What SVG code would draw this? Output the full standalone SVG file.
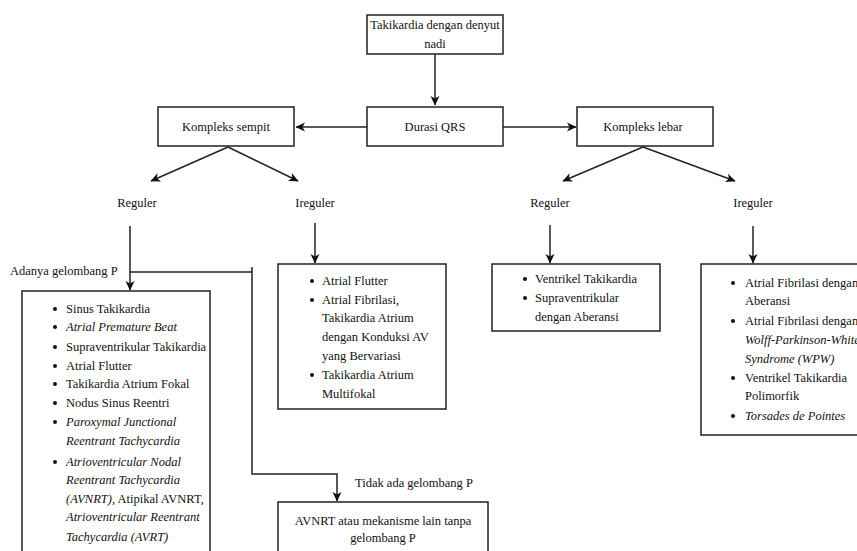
<svg xmlns="http://www.w3.org/2000/svg" width="857" height="551" viewBox="0 0 857 551">
<defs>
<marker id="arr" markerWidth="10" markerHeight="10" refX="9" refY="5" orient="auto" markerUnits="userSpaceOnUse">
<path d="M0,0.5 L9.5,5 L0,9.5 L2.5,5 Z" fill="#111"/>
</marker>
</defs>
<style>
text{font-family:"Liberation Serif","Times New Roman",serif;font-size:12.5px;fill:#111}
.c{text-anchor:middle}
.i{font-style:italic}
.box{fill:#fff;stroke:#222;stroke-width:1.5}
.ln{fill:none;stroke:#222;stroke-width:1.5}
.b{fill:#111}
</style>
<rect width="857" height="551" fill="#fff"/>
<g id="connectors">
<path class="ln" d="M435,54 V105" marker-end="url(#arr)"/>
<path class="ln" d="M367,127 H296" marker-end="url(#arr)"/>
<path class="ln" d="M503,127 H576" marker-end="url(#arr)"/>
<path class="ln" d="M228,147 L151,181" marker-end="url(#arr)"/>
<path class="ln" d="M228,147 L298,181" marker-end="url(#arr)"/>
<path class="ln" d="M643,147 L563,181" marker-end="url(#arr)"/>
<path class="ln" d="M643,147 L735,181" marker-end="url(#arr)"/>
<path class="ln" d="M130,226 V290" marker-end="url(#arr)"/>
<path class="ln" d="M130,272 H252"/>
<path class="ln" d="M252,267 V474 H337 V501" marker-end="url(#arr)"/>
<path class="ln" d="M315,223 V263" marker-end="url(#arr)"/>
<path class="ln" d="M550,225 V263" marker-end="url(#arr)"/>
<path class="ln" d="M753,226 V263" marker-end="url(#arr)"/>
</g>
<g id="n-top">
<rect class="box" x="367" y="15" width="136" height="39"/>
<text class="c" x="435" y="29">Takikardia dengan denyut</text>
<text class="c" x="435" y="48">nadi</text>
</g>
<g id="n-durasi">
<rect class="box" x="367" y="107" width="136" height="39"/>
<text class="c" x="435" y="131">Durasi QRS</text>
</g>
<g id="n-sempit">
<rect class="box" x="158" y="107" width="136" height="39"/>
<text class="c" x="226" y="131">Kompleks sempit</text>
</g>
<g id="n-lebar">
<rect class="box" x="577" y="107" width="136" height="39"/>
<text class="c" x="643" y="131">Kompleks lebar</text>
</g>
<g id="l-reguler1"><text class="c" x="137" y="207">Reguler</text></g>
<g id="l-ireguler1"><text class="c" x="315" y="207">Ireguler</text></g>
<g id="l-reguler2"><text class="c" x="550" y="207">Reguler</text></g>
<g id="l-ireguler2"><text class="c" x="753" y="207">Ireguler</text></g>
<g id="l-adanya"><text x="10" y="275">Adanya gelombang P</text></g>
<g id="l-tidak"><text x="355" y="487">Tidak ada gelombang P</text></g>
<g id="n-list1">
<rect class="box" x="22" y="291" width="188" height="280"/>
<circle class="b" cx="55" cy="309" r="2"/><text x="66" y="313">Sinus Takikardia</text>
<circle class="b" cx="55" cy="327" r="2"/><text class="i" x="66" y="331">Atrial Premature Beat</text>
<circle class="b" cx="55" cy="347" r="2"/><text x="66" y="351">Supraventrikular Takikardia</text>
<circle class="b" cx="55" cy="366" r="2"/><text x="66" y="370">Atrial Flutter</text>
<circle class="b" cx="55" cy="384" r="2"/><text x="66" y="388">Takikardia Atrium Fokal</text>
<circle class="b" cx="55" cy="403" r="2"/><text x="66" y="407">Nodus Sinus Reentri</text>
<circle class="b" cx="55" cy="422" r="2"/><text class="i" x="66" y="426">Paroxymal Junctional</text>
<text class="i" x="66" y="445">Reentrant Tachycardia</text>
<circle class="b" cx="55" cy="462" r="2"/><text class="i" x="66" y="466">Atrioventricular Nodal</text>
<text class="i" x="66" y="484">Reentrant Tachycardia</text>
<text x="66" y="503"><tspan class="i" font-style="italic">(AVNRT),</tspan> Atipikal AVNRT,</text>
<text class="i" x="66" y="521">Atrioventricular Reentrant</text>
<text class="i" x="66" y="541">Tachycardia (AVRT)</text>
</g>
<g id="n-list2">
<rect class="box" x="278" y="264" width="168" height="145"/>
<circle class="b" cx="312" cy="281" r="2"/><text x="322" y="285">Atrial Flutter</text>
<circle class="b" cx="312" cy="300" r="2"/><text x="322" y="304">Atrial Fibrilasi,</text>
<text x="322" y="322">Takikardia Atrium</text>
<text x="322" y="341">dengan Konduksi AV</text>
<text x="322" y="360">yang Bervariasi</text>
<circle class="b" cx="312" cy="375" r="2"/><text x="322" y="379">Takikardia Atrium</text>
<text x="322" y="398">Multifokal</text>
</g>
<g id="n-avnrt">
<rect class="box" x="278" y="502" width="210" height="60"/>
<text class="c" x="383" y="525">AVNRT atau mekanisme lain tanpa</text>
<text class="c" x="383" y="542">gelombang P</text>
</g>
<g id="n-list3">
<rect class="box" x="492" y="264" width="168" height="67"/>
<circle class="b" cx="525" cy="279" r="2"/><text x="535" y="283">Ventrikel Takikardia</text>
<circle class="b" cx="525" cy="298" r="2"/><text x="535" y="302">Supraventrikular</text>
<text x="535" y="321">dengan Aberansi</text>
</g>
<g id="n-list4">
<rect class="box" x="701" y="264" width="170" height="171"/>
<circle class="b" cx="733" cy="283" r="2"/><text x="745" y="287">Atrial Fibrilasi dengan</text>
<text x="745" y="305">Aberansi</text>
<circle class="b" cx="733" cy="321" r="2"/><text x="745" y="325">Atrial Fibrilasi dengan</text>
<text class="i" x="745" y="344">Wolff-Parkinson-White</text>
<text class="i" x="745" y="363">Syndrome (WPW)</text>
<circle class="b" cx="733" cy="378" r="2"/><text x="745" y="382">Ventrikel Takikardia</text>
<text x="745" y="400">Polimorfik</text>
<circle class="b" cx="733" cy="416" r="2"/><text class="i" x="745" y="420">Torsades de Pointes</text>
</g>
</svg>
